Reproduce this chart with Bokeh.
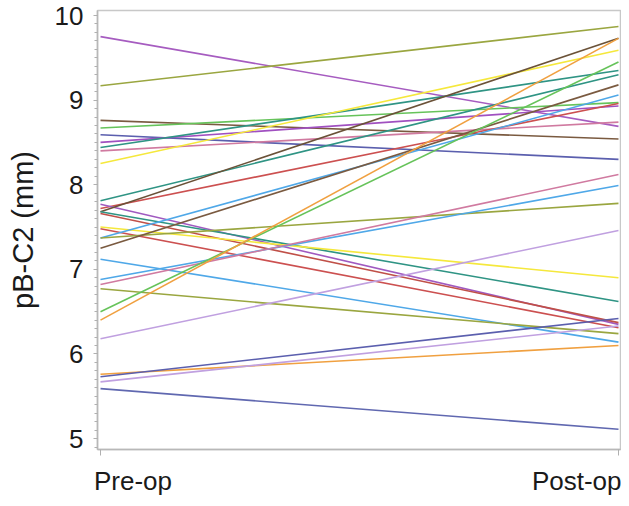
from bokeh.plotting import figure
from bokeh.models import Range1d, SingleIntervalTicker, FixedTicker
from bokeh.embed import file_html
from bokeh.resources import INLINE

# ---- data ----
groups = ["Pre-op", "Post-op"]
pre = [9.75, 9.17, 8.76, 8.67, 8.59, 8.50, 8.44, 8.40, 8.25, 7.81,
       7.72, 7.77, 7.68, 7.68, 7.66, 7.50, 7.48, 7.37, 7.37, 7.25,
       7.12, 6.88, 6.82, 6.77, 6.50, 6.40, 6.18, 5.76, 5.73, 5.67, 5.59]
post = [8.69, 9.87, 8.54, 8.97, 8.30, 8.93, 9.35, 8.74, 9.59, 9.30,
        8.96, 6.35, 9.73, 6.62, 6.37, 6.90, 6.31, 9.06, 7.78, 9.18,
        6.14, 7.99, 8.12, 6.24, 9.45, 9.73, 7.46, 6.10, 6.42, 6.33, 5.11]

# ---- styles ----
colors = ["#a65cc0", "#9aa640", "#7a5a40", "#66c35a", "#5b5fae", "#a050c0",
          "#2f9484", "#d07aa0", "#f5e83c", "#2f9484", "#cc5050", "#a05ac0",
          "#6b5238", "#2f9484", "#c05048", "#f5e83c", "#cc5050", "#4fa8e8",
          "#9aa640", "#7a5a40", "#4fa8e8", "#4fa8e8", "#d07aa0", "#9aa640",
          "#66c35a", "#f0a040", "#c0a0e0", "#f0a040", "#5b5fae", "#c0a0e0",
          "#6068b0"]

FONT = "Liberation Sans"
NB = "\u00a0"

p = figure(width=621, height=498, output_backend="svg", toolbar_location=None,
           min_border_left=97, min_border_right=1, min_border_top=10, min_border_bottom=46,
           x_range=Range1d(-0.0058, 1.0039), y_range=Range1d(4.871, 10.059))

xs = [[0, 1] for _ in pre]
ys = [[a, b] for a, b in zip(pre, post)]
p.multi_line(xs=xs, ys=ys, line_color=colors, line_width=1.6)

p.grid.visible = False
p.outline_line_color = "#c8c8c8"
p.outline_line_width = 1.5
p.background_fill_color = "white"
p.border_fill_color = "white"

# y axis
ya = p.yaxis[0]
ya.ticker = SingleIntervalTicker(interval=1, num_minor_ticks=10)
ya.axis_line_color = "#b8b8b8"
ya.axis_line_width = 1.5
ya.major_tick_line_color = "#b0b0b0"
ya.minor_tick_line_color = "#b0b0b0"
ya.major_tick_out = 4
ya.major_tick_in = 0
ya.minor_tick_out = 3
ya.minor_tick_in = 0
ya.major_label_text_font = FONT
ya.major_label_text_font_size = "26px"
ya.major_label_text_color = "#1a1a1a"
ya.major_label_standoff = 10
ya.axis_label = "pB-C2 (mm)"
ya.axis_label_text_font = FONT
ya.axis_label_text_font_size = "29px"
ya.axis_label_text_font_style = "normal"
ya.axis_label_text_color = "#1a1a1a"
ya.axis_label_standoff = 13

# x axis (labels pushed inward like the reference)
xa = p.xaxis[0]
xa.ticker = FixedTicker(ticks=[0, 1], minor_ticks=[])
xa.axis_line_color = "#b8b8b8"
xa.axis_line_width = 1.5
xa.major_tick_line_color = "#b0b0b0"
xa.major_tick_out = 6
xa.major_tick_in = 0
xa.major_label_overrides = {0: NB * 9 + groups[0], 1: groups[1]}
xa.major_label_text_font = FONT
xa.major_label_text_font_size = "26px"
xa.major_label_text_color = "#1a1a1a"
xa.major_label_standoff = 10

open("out.html", "w").write(file_html(p, INLINE))
